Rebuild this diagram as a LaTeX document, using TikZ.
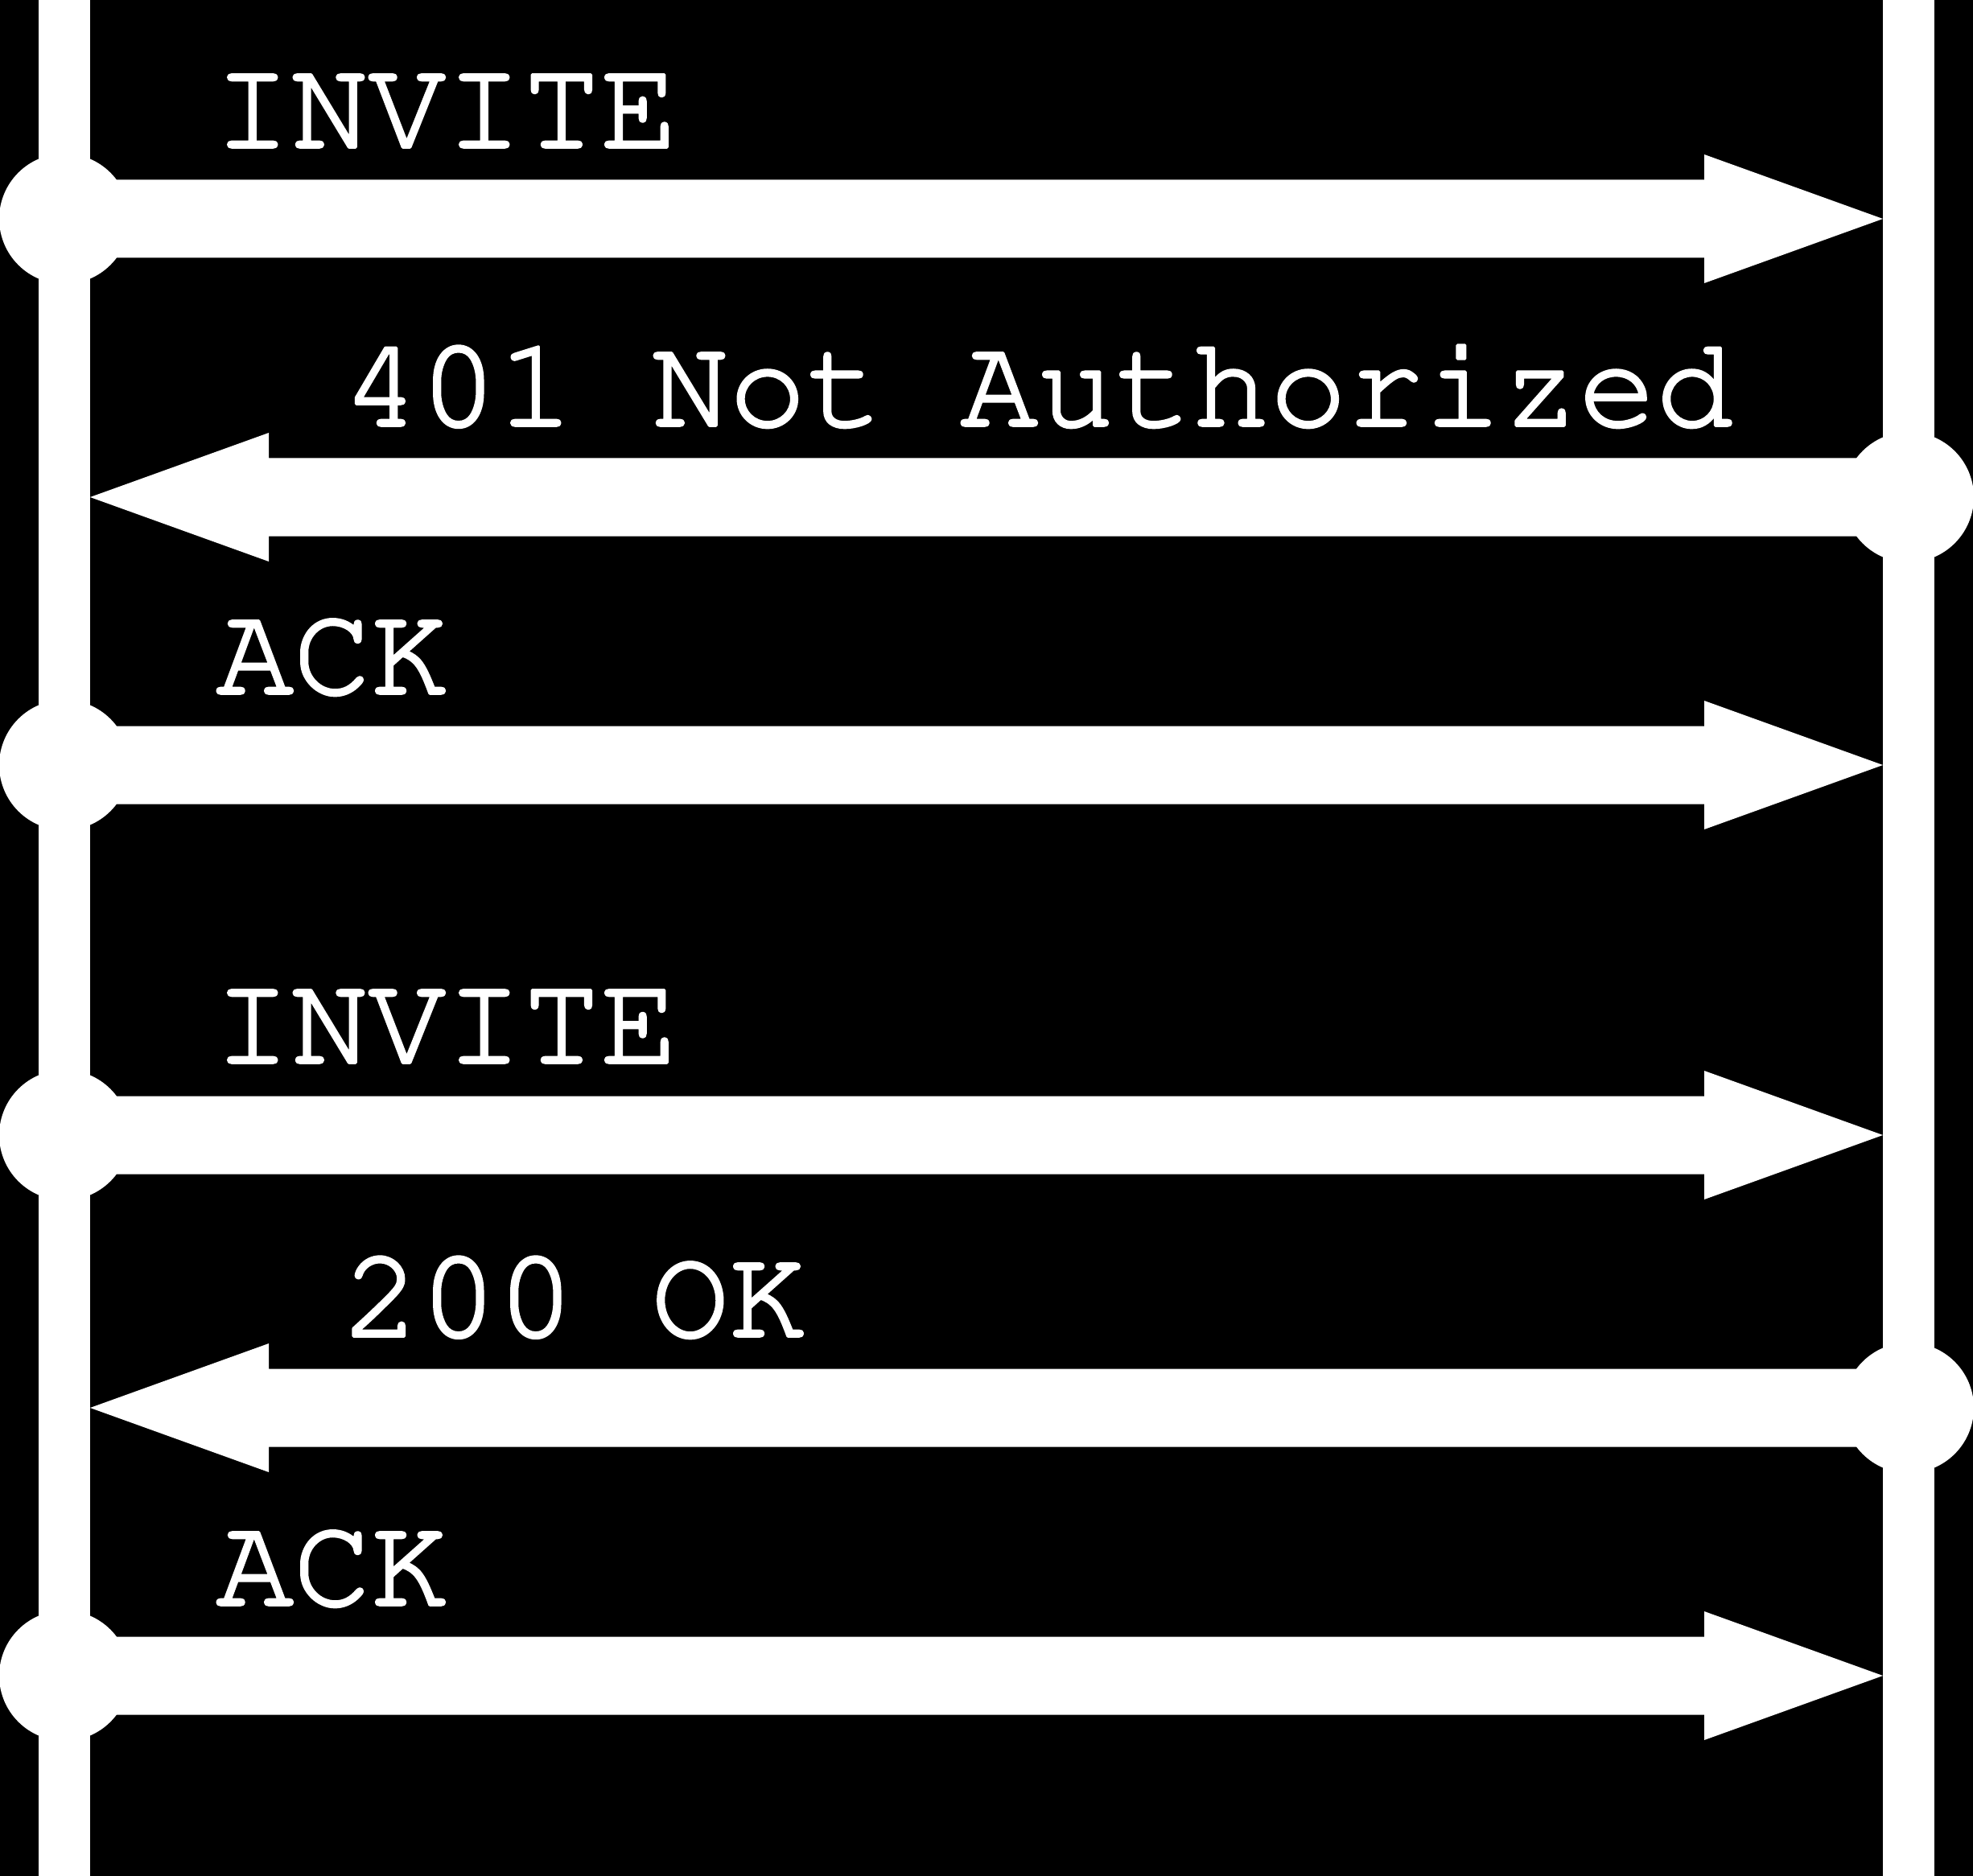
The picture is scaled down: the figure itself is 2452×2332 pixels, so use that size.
\documentclass[tikz,border=0pt]{standalone}
\usepackage[T1]{fontenc}
\usetikzlibrary{calc}
\newcommand\heavytext[1]{\special{pdf:literal direct 2 Tr 0.9 w 1 J 1 j}#1\special{pdf:literal direct 0 Tr}}
\tikzset{
  lifeline/.style={draw=white,line width=16pt},
  dotmark/.style={fill=white},
  lbl/.style={text=white,inner sep=0pt,anchor=base west,
    font=\fontencoding{T1}\fontfamily{pcr}\fontsize{40}{40}\selectfont},
}
% arrow from #1 (sender, on a lifeline) to #2 (receiver, on the other lifeline)
\newcommand\msgright[2]{%
  \fill[white] ($(#1)+(0,-48.5)$) -- ($(#2)+(-254,-48.5)$) -- ($(#2)+(-254,-80)$)
    -- ($(#2)+(-32,0)$) -- ($(#2)+(-254,80)$) -- ($(#2)+(-254,48.5)$)
    -- ($(#1)+(0,48.5)$) -- cycle;
  \fill[dotmark] (#1) circle[radius=20.25pt];}
\newcommand\msgleft[2]{%
  \fill[white] ($(#1)+(0,-48.5)$) -- ($(#2)+(254,-48.5)$) -- ($(#2)+(254,-80)$)
    -- ($(#2)+(32,0)$) -- ($(#2)+(254,80)$) -- ($(#2)+(254,48.5)$)
    -- ($(#1)+(0,48.5)$) -- cycle;
  \fill[dotmark] (#1) circle[radius=20.25pt];}
\begin{document}
\begin{tikzpicture}[x=0.25pt,y=-0.25pt]
\fill[black] (0,0) rectangle (2452,2332);
\useasboundingbox (0,0) rectangle (2452,2332);
% lifelines
\coordinate (Atop) at (80,0);   \coordinate (Abot) at (80,2332);
\coordinate (Btop) at (2372,0); \coordinate (Bbot) at (2372,2332);
\draw[lifeline] (Atop) -- (Abot);
\draw[lifeline] (Btop) -- (Bbot);
% message rows
\foreach \n/\y in {1/272,2/618,3/951,4/1411,5/1750,6/2083}{
  \coordinate (A\n) at (80,\y);
  \coordinate (B\n) at (2372,\y);
}
\msgright{A1}{B1}
\msgleft{B2}{A2}
\msgright{A3}{B3}
\msgright{A4}{B4}
\msgleft{B5}{A5}
\msgright{A6}{B6}
% labels
\node[lbl] (t1) at (265,183) {\heavytext{INVITE}};
\node[lbl] (t2) at (425,529) {\heavytext{401 Not Authorized}};
\node[lbl] (t3) at (268,862) {\heavytext{ACK}};
\node[lbl] (t4) at (265,1321) {\heavytext{INVITE}};
\node[lbl] (t5) at (425,1661) {\heavytext{200 OK}};
\node[lbl] (t6) at (268,1995) {\heavytext{ACK}};
\end{tikzpicture}
\end{document}
